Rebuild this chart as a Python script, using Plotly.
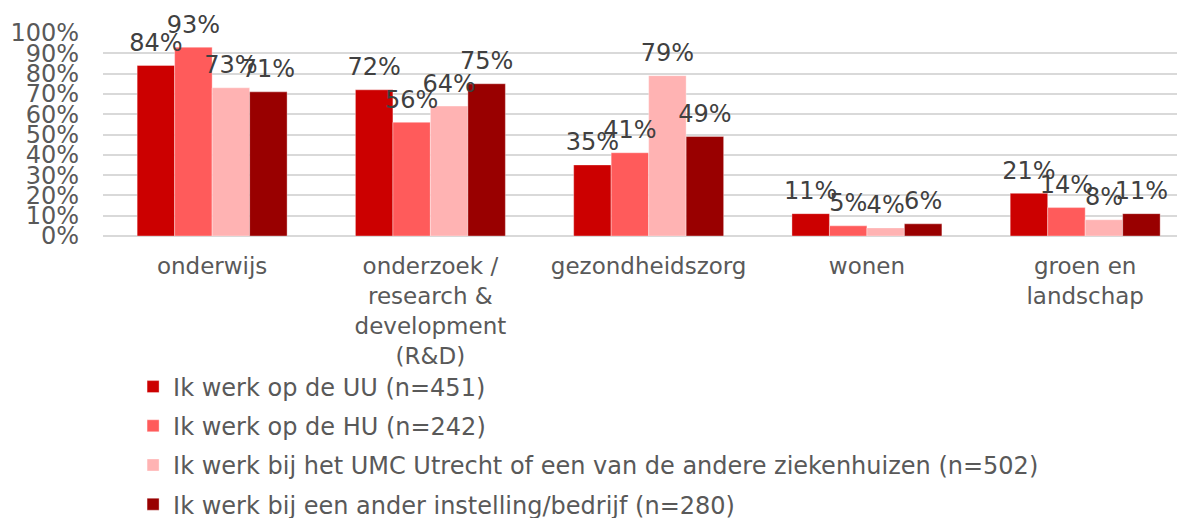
import plotly.graph_objects as go

categories = ["onderwijs", "onderzoek /<br>research &<br>development<br>(R&D)",
              "gezondheidszorg", "wonen", "groen en<br>landschap"]
series_names = ["Ik werk op de UU (n=451)", "Ik werk op de HU (n=242)",
                "Ik werk bij het UMC Utrecht of een van de andere ziekenhuizen (n=502)",
                "Ik werk bij een ander instelling/bedrijf (n=280)"]
uu = [0.84, 0.72, 0.35, 0.11, 0.21]
hu = [0.93, 0.56, 0.41, 0.05, 0.14]
umc = [0.73, 0.64, 0.79, 0.04, 0.08]
ander = [0.71, 0.75, 0.49, 0.06, 0.11]
colors = ["#CC0000", "#FF5B5B", "#FFB3B3", "#990000"]

FONT = "Verdana, DejaVu Sans, sans-serif"
fig = go.Figure()
all_series = [uu, hu, umc, ander]
for i, (name, vals) in enumerate(zip(series_names, all_series)):
    fig.add_trace(go.Bar(
        x=categories, y=vals, name=name, legendgroup=f"g{i}",
        marker=dict(color=colors[i], line=dict(width=1, color="rgba(255,255,255,0.35)")),
    ))
for i, vals in enumerate(all_series):
    fig.add_trace(go.Scatter(
        x=categories, y=vals, mode="markers+text", showlegend=False,
        legendgroup=f"g{i}", hoverinfo="skip",
        marker=dict(size=12, opacity=0, color=colors[i]),
        text=[f"{round(v*100)}%" for v in vals], textposition="top center",
        cliponaxis=False,
        textfont=dict(family=FONT, size=24, color="#404040"),
    ))

fig.update_layout(
    width=1185, height=530,
    margin=dict(l=95, r=0, t=25, b=302),
    paper_bgcolor="white", plot_bgcolor="white",
    barmode="group", bargap=0.313, bargroupgap=0,
    scattermode="group", scattergap=0.313,
    font=dict(family=FONT, size=22, color="#595959"),
    showlegend=True,
    legend=dict(orientation="v", x=0.0276, xanchor="left", y=-0.633, yanchor="top",
                font=dict(family=FONT, size=24, color="#595959"),
                tracegroupgap=5, itemwidth=30, bgcolor="rgba(0,0,0,0)"),
)
fig.update_xaxes(range=[-0.5, 4.494], showgrid=False, showline=False, ticks="",
                 automargin=False,
                 tickfont=dict(family=FONT, size=23, color="#595959"),
                 ticklabelstandoff=14, tickangle=0)
fig.update_yaxes(range=[0, 1.0], dtick=0.1, tickformat=".0%", showgrid=True,
                 automargin=False,
                 gridcolor="#D9D9D9", gridwidth=1.5, zeroline=True,
                 zerolinecolor="#D9D9D9", zerolinewidth=1.5, showline=False,
                 tickfont=dict(family=FONT, size=24, color="#595959"),
                 ticklabelstandoff=23)
fig.write_html("out.html")
